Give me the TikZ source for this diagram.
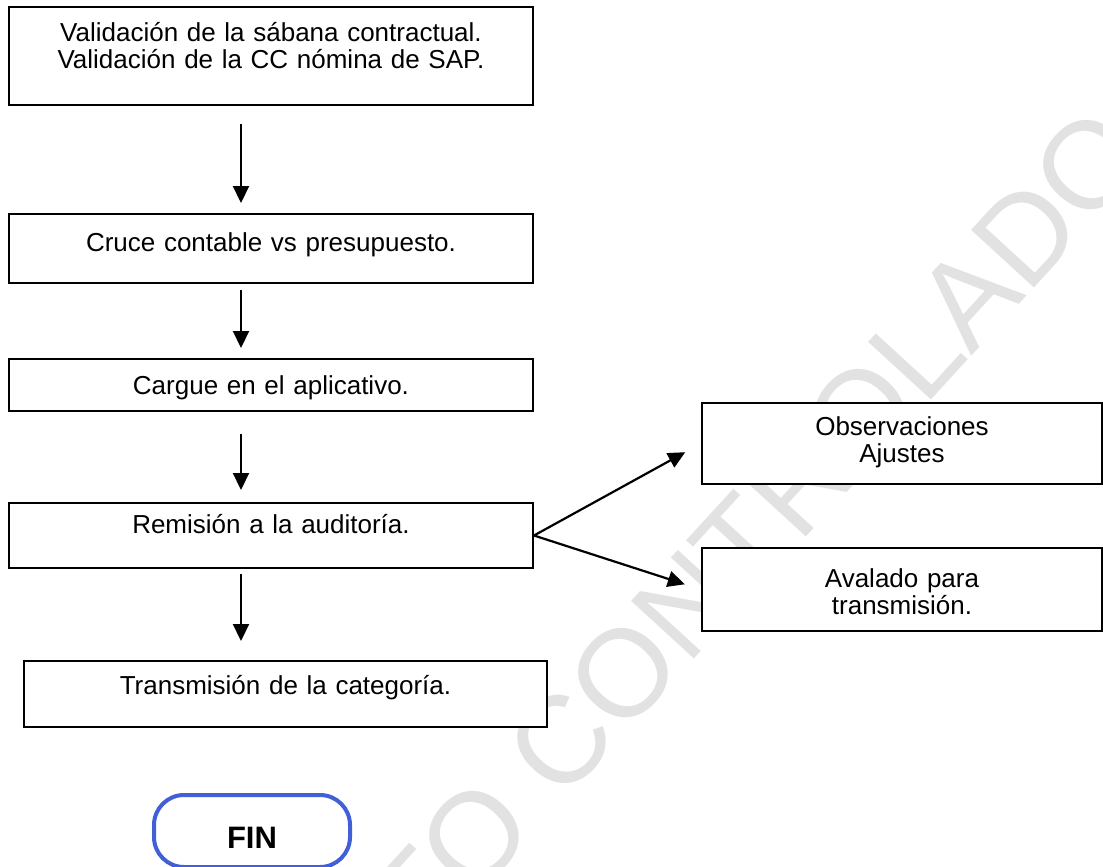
\documentclass[tikz,border=0pt]{standalone}
\usepackage{fontspec}
\setmainfont{Liberation Sans}
\usetikzlibrary{arrows.meta}

\definecolor{finblue}{RGB}{65,95,215}
\definecolor{wmgray}{RGB}{226,226,226}

\tikzset{
    stepbox/.style={draw, fill=white, line width=1pt, inner xsep=0pt, inner ysep=0pt,
        align=center, anchor=north west, font=\fontsize{13}{13.5}\selectfont},
    sidebox/.style={stepbox, text width=200pt},
    flow/.style={line width=1.1pt, -{Triangle[length=8.5pt,width=8pt]}},
    endbox/.style={draw=finblue, fill=white, line width=2pt, rounded corners=15pt,
        minimum width=98pt, inner ysep=0pt, anchor=north west,
        font=\fontsize{15.5}{18}\selectfont\bfseries},
    wmark/.style={text=wmgray, font=\fontsize{62}{70}\selectfont, anchor=base}
}

\begin{document}
\begin{tikzpicture}[x=0.5pt, y=-0.5pt]
    % Page frame
    \useasboundingbox (0,0) rectangle (1103,867);
    \clip (0,0) rectangle (1103,867);

    % Watermark
    \node[wmark, rotate=47.5] (sello) at (572,792.5) {DOCUMENTO CONTROLADO};

    % Main column
    \node[stepbox, text width=262pt, text height=17pt, text depth=32pt] (valida) at (8,6)
        {Validación de la sábana contractual.\\Validación de la CC nómina de SAP.};
    \node[stepbox, text width=262pt, text height=18.5pt, text depth=16pt] (cruce) at (8,213)
        {Cruce contable vs presupuesto.};
    \node[stepbox, text width=262pt, text height=17.5pt, text depth=8.5pt] (cargue) at (8,358)
        {Cargue en el aplicativo.};
    \node[stepbox, text width=262pt, text height=15pt, text depth=17.5pt] (remision) at (8,502)
        {Remisión a la auditoría.};
    \node[stepbox, text width=261.5pt, text height=16.5pt, text depth=16.5pt] (transmision) at (23,660)
        {Transmisión de la categoría.};

    % Side boxes
    \node[sidebox, text height=16pt, text depth=24.5pt] (obs) at (701,402)
        {Observaciones\\Ajustes};
    \node[sidebox, text height=19.5pt, text depth=22pt] (avalado) at (701,547)
        {Avalado para\\transmisión.};

    % End
    \node[endbox, text height=26.5pt, text depth=9.5pt] (fin) at (152,793) {FIN};

    % Arrows down the left column
    \coordinate (spine) at (241,0);
    \foreach \a/\b/\s/\e in {valida/cruce/9/5, cruce/cargue/3/5,
        cargue/remision/11/6, remision/transmision/2.5/9.5}
    {
        \draw[flow, shorten <=\s pt, shorten >=\e pt] (\a.south -| spine) -- (\b.north -| spine);
    }

    % Branches
    \draw[flow, shorten >=9pt] (remision.east) -- (obs.west);
    \draw[flow, shorten >=8.5pt] (remision.east) -- (avalado.west);
\end{tikzpicture}
\end{document}
